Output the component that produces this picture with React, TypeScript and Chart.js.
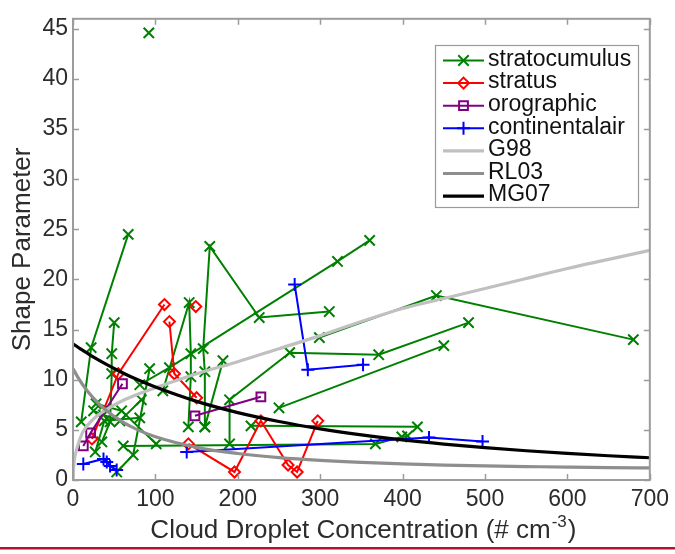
import React, { useEffect, useRef } from 'react';
import { Chart, registerables } from 'chart.js';

Chart.register(...registerables);

const FONT = '"Liberation Sans", Arial, Helvetica, sans-serif';
const TEXT = '#2c2c2c';
const FRAME = '#9c9c9c';

// ---- axis ticks / labels ----
const xTickValues = [0, 100, 200, 300, 400, 500, 600, 700];
const yTickValues = [0, 5, 10, 15, 20, 25, 30, 35, 40, 45];
const xTitleMain = 'Cloud Droplet Concentration (# cm';
const xTitleSup = '-3';
const xTitleEnd = ')';
const yTitle = 'Shape Parameter';

// ---- observations (null = break between flights) ----
const stratocumulusX = [
  10, 22, 67, null,
  81, 117, 321, 360, null,
  50, 47, 47, 45, 35, null,
  109, 141, 143, 143, 140, null,
  160, 160, 158, 166, 226, 311, null,
  182, 160, null,
  190, 190, 263, 371, 480, null,
  250, 450, null,
  299, 441, 680, null,
  216, 418, null,
  61, 367, 399, 406, null,
  28, 59, 101, null,
  27, 38, 81, null,
  53, 73, 93, null,
  92, null,
  25, 37, 57, 83,
];
const stratocumulusY = [
  5.8, 13.2, 24.5, null,
  9.5, 11.2, 21.8, 23.9, null,
  15.7, 12.6, 10.6, 5.8, 3.8, null,
  8.9, 17.7, 12.6, 10.3, 5.3, null,
  5.3, 10.8, 13.1, 23.3, 16.2, 16.8, null,
  11.9, 5.3, null,
  3.6, 8.0, 12.7, 12.5, 15.7, null,
  7.2, 13.4, null,
  14.2, 18.4, 14.0, null,
  5.4, 5.3, null,
  3.4, 3.6, 4.3, 4.4, null,
  7.6, 6.9, 3.6, null,
  2.8, 5.9, 6.2, null,
  0.8, 2.5, 11.1, null,
  44.6, null,
  6.9, 6.5, 5.9, 8.0,
];

const stratusX = [23, 55, 111, null, 117, 123, 150, null, 149, null, 140, 196, 228, 261, 272, 297];
const stratusY = [4.1, 10.6, 17.5, null, 15.8, 10.6, 8.2, null, 17.3, null, 3.6, 0.8, 5.9, 1.5, 0.8, 5.9];

const orographicX = [12.5, 21.4, 60, null, 148, 228];
const orographicY = [3.4, 4.7, 9.6, null, 6.4, 8.3];

const continentalX = [12.5, 37, 41, 45, 53, null, 138, 432, 497, null, 269, 285, 352];
const continentalY = [1.6, 2.1, 1.8, 1.4, 1.0, null, 2.8, 4.25, 3.85, null, 19.5, 11.0, 11.5];

// ---- parameterisation curves ----
const curveN = [0, 1, 3, 6, 12, 25, 40, 60, 80, 100, 150, 200, 250, 300, 350, 400, 450, 500, 550, 600, 650, 700];
const g98Values = [0, 1.5, 2.6, 3.5, 4.8, 6.1, 7.0, 7.9, 8.6, 9.2, 10.6, 11.8, 13.1, 14.4, 15.8, 17.1, 18.1, 19.1, 20.1, 21.1, 22.0, 22.9];
const rl03Values = [11.1, 10.96, 10.66, 10.24, 9.48, 8.14, 6.96, 5.8, 4.95, 4.31, 3.26, 2.64, 2.23, 1.95, 1.75, 1.61, 1.49, 1.4, 1.34, 1.28, 1.23, 1.2];
const mg07Values = [13.58, 13.52, 13.41, 13.24, 12.92, 12.25, 11.55, 10.7, 9.94, 9.27, 7.84, 6.72, 5.83, 5.1, 4.5, 4.0, 3.58, 3.22, 2.92, 2.65, 2.42, 2.22];

const GREEN = '#008000';
const RED = '#ff0000';
const PURPLE = '#800080';
const BLUE = '#0000ff';
const G98C = '#c0c0c0';
const RL03C = '#8e8e8e';
const MG07C = '#000000';

function pts(xs: (number | null)[], ys: (number | null)[]) {
  return xs.map((x, i) => ({ x: x ?? (xs[i - 1] as number), y: ys[i] }));
}

function obsDataset(label: string, xs: any[], ys: any[], color: string, style: string, radius: number) {
  return {
    label,
    data: pts(xs, ys),
    borderColor: color,
    backgroundColor: 'rgba(0,0,0,0)',
    pointBorderColor: color,
    pointBackgroundColor: 'rgba(0,0,0,0)',
    pointStyle: style,
    pointRadius: radius,
    pointBorderWidth: 2,
    borderWidth: 2,
    spanGaps: false,
    tension: 0,
  };
}

function curveDataset(label: string, ys: number[], color: string) {
  return {
    label,
    data: pts(curveN, ys),
    borderColor: color,
    backgroundColor: 'rgba(0,0,0,0)',
    pointRadius: 0,
    borderWidth: 3.2,
    cubicInterpolationMode: 'monotone',
  };
}

const legendItems = [
  { label: 'stratocumulus', color: GREEN, marker: 'x', width: 2 },
  { label: 'stratus', color: RED, marker: 'diamond', width: 2 },
  { label: 'orographic', color: PURPLE, marker: 'square', width: 2 },
  { label: 'continentalair', color: BLUE, marker: 'plus', width: 2 },
  { label: 'G98', color: G98C, marker: '', width: 3.2 },
  { label: 'RL03', color: RL03C, marker: '', width: 3.2 },
  { label: 'MG07', color: MG07C, marker: '', width: 3.2 },
];

function drawMarker(ctx: CanvasRenderingContext2D, kind: string, x: number, y: number) {
  ctx.beginPath();
  if (kind === 'x') {
    const a = 5.2;
    ctx.moveTo(x - a, y - a); ctx.lineTo(x + a, y + a);
    ctx.moveTo(x - a, y + a); ctx.lineTo(x + a, y - a);
  } else if (kind === 'diamond') {
    const a = 5.5;
    ctx.moveTo(x - a, y); ctx.lineTo(x, y - a); ctx.lineTo(x + a, y); ctx.lineTo(x, y + a); ctx.closePath();
  } else if (kind === 'square') {
    const a = 4.4;
    ctx.rect(x - a, y - a, 2 * a, 2 * a);
  } else if (kind === 'plus') {
    const a = 6.5;
    ctx.moveTo(x - a, y); ctx.lineTo(x + a, y);
    ctx.moveTo(x, y - a); ctx.lineTo(x, y + a);
  }
  ctx.stroke();
}

const decorPlugin = {
  id: 'decor',
  afterDatasetsDraw(chart: any) {
    const { ctx, chartArea: a, scales } = chart;
    ctx.save();
    ctx.strokeStyle = FRAME;
    ctx.lineWidth = 1.5;
    const tl = 6;
    ctx.beginPath();
    xTickValues.forEach((v) => {
      const px = Math.round(scales.x.getPixelForValue(v)) + 0.5;
      ctx.moveTo(px, a.bottom); ctx.lineTo(px, a.bottom - tl);
      ctx.moveTo(px, a.top); ctx.lineTo(px, a.top + tl);
    });
    yTickValues.forEach((v) => {
      const py = Math.round(scales.y.getPixelForValue(v)) + 0.5;
      ctx.moveTo(a.left, py); ctx.lineTo(a.left + tl, py);
      ctx.moveTo(a.right, py); ctx.lineTo(a.right - tl, py);
    });
    ctx.stroke();
    ctx.lineWidth = 2;
    ctx.strokeRect(a.left, a.top, a.right - a.left, a.bottom - a.top);
    ctx.restore();
  },
  afterDraw(chart: any) {
    const { ctx, chartArea: a } = chart;
    ctx.save();
    // legend box
    const bx = 435, by = 45, bw = 203, bh = 162;
    ctx.fillStyle = '#ffffff';
    ctx.fillRect(bx, by, bw, bh);
    ctx.strokeStyle = '#9a9a9a';
    ctx.lineWidth = 1.2;
    ctx.strokeRect(bx + 0.5, by + 0.5, bw, bh);
    ctx.font = `23px ${FONT}`;
    ctx.textBaseline = 'middle';
    ctx.textAlign = 'left';
    legendItems.forEach((it, i) => {
      const y = 60.5 + i * 22.6;
      ctx.strokeStyle = it.color;
      ctx.lineWidth = it.width;
      ctx.beginPath();
      ctx.moveTo(443, y); ctx.lineTo(484, y);
      ctx.stroke();
      if (it.marker) {
        ctx.lineWidth = 2;
        drawMarker(ctx, it.marker, 463.5, y);
      }
      ctx.fillStyle = '#111111';
      ctx.fillText(it.label, 488, y - 1);
    });

    // axis titles
    ctx.fillStyle = TEXT;
    ctx.font = `26px ${FONT}`;
    ctx.textBaseline = 'alphabetic';
    const wMain = ctx.measureText(xTitleMain).width;
    ctx.font = `17px ${FONT}`;
    const wSup = ctx.measureText(xTitleSup).width;
    ctx.font = `26px ${FONT}`;
    const wEnd = ctx.measureText(xTitleEnd).width;
    const total = wMain + wSup + wEnd + 2;
    let x0 = (a.left + a.right) / 2 - total / 2 + 2;
    const base = 538;
    ctx.fillText(xTitleMain, x0, base);
    ctx.font = `17px ${FONT}`;
    ctx.fillText(xTitleSup, x0 + wMain + 1, base - 11);
    ctx.font = `26px ${FONT}`;
    ctx.fillText(xTitleEnd, x0 + wMain + wSup + 2, base);

    ctx.save();
    ctx.translate(23, (a.top + a.bottom) / 2);
    ctx.rotate(-Math.PI / 2);
    ctx.textAlign = 'center';
    ctx.textBaseline = 'middle';
    ctx.fillText(yTitle, 0, 0);
    ctx.restore();

    // bottom rule
    ctx.fillStyle = '#b3132f';
    ctx.fillRect(0, 547, 675, 2.5);
    ctx.restore();
  },
};

export default function App() {
  const ref = useRef<HTMLCanvasElement>(null);
  useEffect(() => {
    const canvas = ref.current;
    if (!canvas) return;
    const chart = new Chart(canvas, {
      type: 'line',
      data: {
        datasets: [
          curveDataset('MG07', mg07Values, MG07C),
          curveDataset('RL03', rl03Values, RL03C),
          curveDataset('G98', g98Values, G98C),
          obsDataset('continentalair', continentalX, continentalY, BLUE, 'cross', 6.5),
          obsDataset('orographic', orographicX, orographicY, PURPLE, 'rect', 6.2),
          obsDataset('stratus', stratusX, stratusY, RED, 'rectRot', 5.5),
          obsDataset('stratocumulus', stratocumulusX, stratocumulusY, GREEN, 'crossRot', 7.3),
        ] as any,
      },
      options: {
        responsive: false,
        animation: false,
        events: [],
        layout: { padding: { top: 11, right: 23, left: 0, bottom: 0 } },
        plugins: { legend: { display: false }, tooltip: { enabled: false }, title: { display: false } },
        scales: {
          x: {
            type: 'linear',
            min: 0,
            max: 700,
            afterFit: (s: any) => { s.height = 74; },
            afterBuildTicks: (s: any) => { s.ticks = xTickValues.map((v) => ({ value: v })); },
            ticks: { color: TEXT, font: { family: FONT, size: 23 }, padding: 6, maxRotation: 0, autoSkip: false },
            grid: { display: false, drawTicks: false },
            border: { display: false },
          },
          y: {
            type: 'linear',
            min: 0,
            max: 46,
            afterFit: (s: any) => { s.width = 73; },
            afterBuildTicks: (s: any) => { s.ticks = yTickValues.map((v) => ({ value: v })); },
            ticks: { color: TEXT, font: { family: FONT, size: 23 }, padding: 5, autoSkip: false },
            grid: { display: false, drawTicks: false },
            border: { display: false },
          },
        },
      } as any,
      plugins: [decorPlugin],
    });
    return () => chart.destroy();
  }, []);
  return (
    <div style={{ position: 'absolute', left: 0, top: 0, width: 675, height: 554, background: '#ffffff' }}>
      <canvas ref={ref} width={675} height={554} style={{ display: 'block', width: 675, height: 554 }} />
    </div>
  );
}
